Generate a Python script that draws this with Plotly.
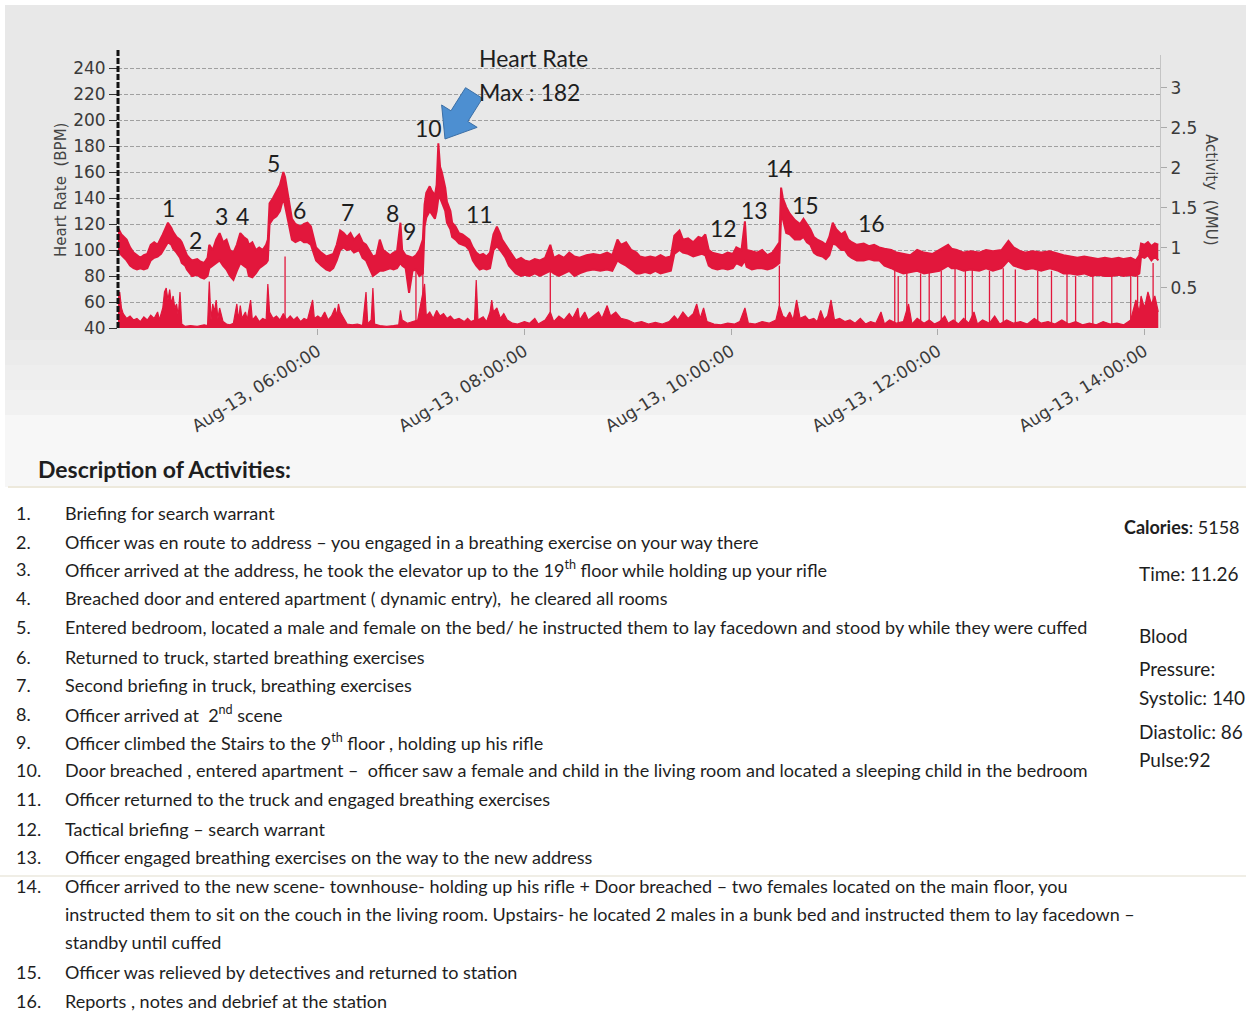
import plotly.graph_objects as go
import pandas as pd

# ---------------- DATA ----------------
DAY = "2013-08-13 "

hr_time = ["04:04","04:06","04:09","04:11","04:13","04:15","04:17","04:19","04:21","04:23",
"04:25","04:27","04:29","04:30","04:32","04:33","04:35","04:36","04:38","04:40",
"04:41","04:43","04:44","04:46","04:47","04:50","04:52","04:54","04:56","04:57",
"04:59","05:01","05:03","05:05","05:07","05:09","05:11","05:13","05:15","05:17",
"05:19","05:20","05:22","05:24","05:26","05:28","05:30","05:31","05:32","05:34",
"05:36","05:38","05:40","05:41","05:42","05:44","05:45","05:47","05:50","05:52",
"05:54","05:56","05:57","05:59","06:02","06:05","06:07","06:09","06:11","06:13",
"06:15","06:17","06:19","06:21","06:24","06:26","06:28","06:30","06:32","06:34",
"06:36","06:38","06:40","06:42","06:44","06:46","06:48","06:49","06:51","06:53",
"06:55","06:57","06:59","07:01","07:02","07:03","07:05","07:06","07:08","07:09",
"07:10","07:11","07:12","07:14","07:15","07:17","07:18","07:20","07:22","07:24",
"07:26","07:28","07:30","07:32","07:34","07:36","07:38","07:40","07:42","07:44",
"07:46","07:47","07:49","07:51","07:53","07:55","07:58","08:00","08:03","08:06",
"08:09","08:12","08:15","08:17","08:20","08:23","08:26","08:29","08:32","08:36",
"08:40","08:44","08:48","08:51","08:54","08:56","08:59","09:02","09:05","09:07",
"09:10","09:13","09:16","09:19","09:22","09:25","09:27","09:30","09:32","09:35",
"09:38","09:41","09:43","09:45","09:47","09:49","09:52","09:55","09:58","10:01",
"10:03","10:06","10:08","10:09","10:12","10:15","10:18","10:21","10:24","10:26",
"10:28","10:29","10:30","10:32","10:34","10:37","10:40","10:42","10:44","10:46",
"10:48","10:50","10:53","10:55","10:57","10:59","11:01","11:04","11:06","11:08",
"11:10","11:13","11:17","11:20","11:23","11:26","11:29","11:33","11:36","11:40",
"11:44","11:48","11:52","11:57","12:01","12:06","12:08","12:11","12:15","12:19",
"12:24","12:28","12:32","12:37","12:41","12:44","12:48","12:51","12:55","13:00",
"13:05","13:10","13:13","13:17","13:21","13:25","13:29","13:33","13:37","13:41",
"13:45","13:48","13:52","13:55","13:57","13:58","14:00","14:02","14:04","14:06",
"14:08"]

hr_high = [117,112,108,102,98,96,94,96,97,104,
106,104,109,112,118,121,117,114,110,108,
106,100,96,93,92,93,91,90,94,104,
100,108,113,106,108,100,98,104,113,110,
108,104,106,100,102,100,104,108,136,140,
145,150,160,156,148,132,124,120,118,120,
121,118,112,102,98,95,96,97,104,115,
113,110,113,108,112,106,104,100,95,96,
108,100,98,96,98,99,121,100,96,95,
94,96,100,108,135,144,149,146,142,150,
182,164,160,148,137,130,121,118,113,112,
110,108,102,98,96,97,95,98,112,118,
112,108,104,100,96,92,94,92,91,93,
92,94,104,94,96,94,98,95,94,96,
97,96,98,96,108,104,106,100,98,95,
94,95,94,96,94,95,111,115,108,109,
106,110,109,112,100,98,97,96,98,97,
102,100,122,100,99,98,100,96,98,102,
106,148,140,133,128,123,120,124,120,116,
110,108,106,104,110,121,116,112,114,108,
106,104,105,103,104,102,101,100,98,97,
96,100,98,97,100,104,101,100,98,99,
98,100,99,100,107,102,99,98,99,98,
99,97,96,95,94,95,94,93,94,93,
94,93,94,92,96,105,104,106,103,105,
104]

hr_low = [100,96,92,88,86,85,86,85,86,92,
94,95,97,99,104,106,104,101,98,94,
90,88,85,82,80,81,79,78,80,86,
88,90,92,88,85,80,77,84,90,88,
86,80,79,82,86,88,90,92,120,124,
126,130,140,134,128,116,108,106,108,106,
106,104,100,92,88,85,84,86,92,100,
102,100,101,98,100,94,92,86,80,82,
84,84,85,86,85,86,90,88,86,67,
84,85,80,82,118,125,130,128,124,130,
140,140,137,130,121,116,110,108,105,104,
103,100,92,88,85,86,85,86,100,103,
100,98,94,88,85,82,80,81,80,82,
80,82,84,82,80,82,84,80,82,84,
85,84,85,84,92,90,88,85,82,82,
83,82,84,82,83,84,97,100,98,97,
95,96,97,96,88,86,85,86,85,86,
90,88,92,87,85,86,86,85,86,88,
90,126,124,113,112,108,108,110,106,104,
98,96,95,93,96,105,104,100,100,96,
94,92,92,93,92,92,88,86,84,82,
83,84,82,83,84,88,86,86,84,85,
84,86,84,86,92,88,86,85,86,84,
86,84,82,82,81,82,80,81,80,80,
81,80,81,80,82,95,94,96,92,95,
92]

act_time = ["04:04","04:05","04:06","04:07","04:09","04:11","04:13","04:15","04:17","04:19",
"04:21","04:23","04:25","04:27","04:28","04:30","04:31","04:32","04:33","04:34",
"04:35","04:36","04:37","04:38","04:39","04:40","04:41","04:43","04:46","04:50",
"04:54","04:56","04:57","04:58","04:59","05:00","05:01","05:02","05:03","05:05",
"05:07","05:09","05:11","05:13","05:14","05:15","05:16","05:18","05:19","05:21",
"05:22","05:24","05:26","05:28","05:30","05:31","05:32","05:34","05:36","05:38",
"05:40","05:42","05:44","05:46","05:48","05:50","05:52","05:54","05:57","05:58",
"06:00","06:02","06:04","06:06","06:08","06:10","06:11","06:12","06:13","06:15",
"06:17","06:20","06:23","06:26","06:28","06:29","06:31","06:32","06:33","06:36",
"06:40","06:44","06:47","06:48","06:49","06:52","06:55","06:58","07:02","07:03",
"07:05","07:07","07:09","07:11","07:13","07:15","07:17","07:19","07:22","07:25",
"07:27","07:29","07:31","07:32","07:33","07:36","07:38","07:40","07:41","07:42",
"07:44","07:46","07:48","07:50","07:53","07:56","08:00","08:03","08:06","08:08",
"08:12","08:15","08:17","08:20","08:23","08:26","08:28","08:31","08:32","08:35",
"08:37","08:40","08:43","08:45","08:48","08:50","08:53","08:56","09:00","09:04",
"09:08","09:12","09:16","09:20","09:24","09:27","09:29","09:32","09:35","09:38",
"09:40","09:42","09:44","09:46","09:50","09:54","09:58","10:02","10:05","10:08",
"10:10","10:14","10:18","10:22","10:26","10:28","10:30","10:32","10:34","10:36",
"10:38","10:40","10:43","10:45","10:48","10:50","10:52","10:54","10:56","10:58",
"11:00","11:03","11:06","11:09","11:12","11:15","11:18","11:21","11:24","11:27",
"11:29","11:32","11:36","11:40","11:43","11:45","11:48","11:52","11:55","11:58",
"12:01","12:04","12:06","12:09","12:12","12:15","12:18","12:21","12:23","12:26",
"12:30","12:33","12:36","12:40","12:44","12:48","12:52","12:56","13:00","13:04",
"13:08","13:12","13:16","13:20","13:24","13:28","13:32","13:36","13:40","13:44",
"13:48","13:52","13:55","13:57","13:58","14:00","14:02","14:04","14:06","14:08"]

act_value = [0.35,0.45,0.25,0.18,0.12,0.15,0.10,0.12,0.08,0.14,
0.10,0.16,0.12,0.20,0.10,0.25,0.45,0.50,0.35,0.48,
0.30,0.40,0.25,0.30,0.15,0.45,0.05,0.02,0.03,0.02,
0.04,0.03,0.58,0.10,0.30,0.20,0.35,0.12,0.25,0.08,
0.05,0.04,0.06,0.30,0.10,0.28,0.12,0.20,0.10,0.35,
0.10,0.15,0.08,0.12,0.10,0.55,0.20,0.12,0.15,0.10,
0.18,0.10,0.15,0.10,0.14,0.08,0.12,0.10,0.35,0.12,
0.15,0.12,0.20,0.10,0.15,0.25,0.15,0.30,0.20,0.12,
0.05,0.04,0.05,0.03,0.45,0.05,0.10,0.50,0.05,0.03,
0.02,0.03,0.04,0.22,0.10,0.06,0.08,0.10,0.55,0.15,
0.20,0.12,0.22,0.15,0.18,0.12,0.15,0.10,0.12,0.08,
0.12,0.08,0.10,0.60,0.10,0.14,0.08,0.20,0.35,0.20,
0.25,0.12,0.18,0.10,0.06,0.05,0.08,0.06,0.12,0.05,
0.10,0.20,0.08,0.15,0.10,0.18,0.12,0.25,0.10,0.20,
0.10,0.15,0.20,0.12,0.28,0.15,0.20,0.12,0.10,0.06,
0.08,0.05,0.07,0.05,0.08,0.15,0.10,0.20,0.12,0.18,
0.30,0.12,0.25,0.08,0.05,0.04,0.06,0.05,0.08,0.25,
0.06,0.05,0.08,0.06,0.10,0.28,0.15,0.12,0.20,0.10,
0.35,0.12,0.15,0.10,0.12,0.08,0.22,0.10,0.15,0.35,
0.10,0.12,0.08,0.10,0.06,0.12,0.05,0.08,0.06,0.20,
0.05,0.10,0.06,0.08,0.30,0.05,0.12,0.06,0.10,0.05,
0.08,0.15,0.06,0.10,0.05,0.12,0.06,0.20,0.05,0.10,
0.06,0.15,0.05,0.10,0.06,0.08,0.05,0.12,0.06,0.08,
0.05,0.10,0.05,0.08,0.04,0.06,0.04,0.08,0.05,0.06,
0.04,0.10,0.35,0.20,0.40,0.25,0.45,0.30,0.40,0.20]

# heart-rate signal dropouts (thin vertical lines down to the baseline)
drop_time = ["05:41","06:57","07:01","08:15","10:28","11:35","11:37","11:42","11:50","11:55",
             "12:02","12:10","12:16","12:20","12:30","12:38","12:45","12:58","13:06","13:15",
             "13:20","13:30","13:41","13:52","13:56","14:05"]
drop_top = [95,85,85,84,88,85,80,84,82,83,84,86,84,85,84,86,85,84,84,82,80,80,80,80,80,90]

event_label = ["1","2","3","4","5","6","7","8","9","10","11","12","13","14","15","16"]
event_time = ["04:33:30","04:49:00","05:04:00","05:16:30","05:34:00","05:49:30","06:17:00","06:43:30",
              "06:53:30","07:04:00","07:34:00","09:55:30","10:13:30","10:28:00","10:43:00","11:21:30"]
event_bpm = [132,108,126,126,167,131,129,128.5,115,194,128,117,131,163,134.5,121]

hr_max = 182
hr_max_time = "07:10"

x_tick_times = ["06:00","08:00","10:00","12:00","14:00"]
x_tick_text = ["Aug-13, 06:00:00","Aug-13, 08:00:00","Aug-13, 10:00:00","Aug-13, 12:00:00","Aug-13, 14:00:00"]
hr_ticks = [40,60,80,100,120,140,160,180,200,220,240]
act_ticks = [0.5,1,1.5,2,2.5,3]

activity_num = ["1.","2.","3.","4.","5.","6.","7.","8.","9.","10.","11.","12.","13.","14.","","","15.","16."]
activity_text = [
    "Briefing for search warrant",
    "Officer was en route to address – you engaged in a breathing exercise on your way there",
    "Officer arrived at the address, he took the elevator up to the 19<sup>th</sup> floor while holding up your rifle",
    "Breached door and entered apartment ( dynamic entry),  he cleared all rooms",
    "Entered bedroom, located a male and female on the bed/ he instructed them to lay facedown and stood by while they were cuffed",
    "Returned to truck, started breathing exercises",
    "Second briefing in truck, breathing exercises",
    "Officer arrived at  2<sup>nd</sup> scene",
    "Officer climbed the Stairs to the 9<sup>th</sup> floor , holding up his rifle",
    "Door breached , entered apartment –  officer saw a female and child in the living room and located a sleeping child in the bedroom",
    "Officer returned to the truck and engaged breathing exercises",
    "Tactical briefing – search warrant",
    "Officer engaged breathing exercises on the way to the new address",
    "Officer arrived to the new scene- townhouse- holding up his rifle + Door breached – two females located on the main floor, you",
    "instructed them to sit on the couch in the living room. Upstairs- he located 2 males in a bunk bed and instructed them to lay facedown –",
    "standby until cuffed",
    "Officer was relieved by detectives and returned to station",
    "Reports , notes and debrief at the station",
]
activity_y = [513,542,569,598,627,657,685,714,742,770,799,829,857,886,914,942,972,1001]

side_text = ["<b>Calories</b>: 5158", "Time: 11.26", "Blood", "Pressure:", "Systolic: 140", "Diastolic: 86", "Pulse:92"]
side_x = [1122, 1137, 1137, 1137, 1137, 1137, 1137]
side_y = [527, 573, 635, 668, 697, 731, 760]
side_size = [18, 19, 19, 19, 19, 19, 19]

assert len(hr_time) == len(hr_high) == len(hr_low)
assert len(act_time) == len(act_value)

# ---------------- LAYOUT HELPERS ----------------
W, H = 1246, 1014
PL, PR, PT, PB = 118, 1160, 55, 328


def px(x):
    return (x - PL) / (PR - PL)


def py(y):
    return (PB - y) / (PB - PT)


def ts(lst):
    return pd.to_datetime([DAY + t for t in lst])


RED = "#e2173c"
TXT = "#1e1e1e"

fig = go.Figure()

# activity (right axis)
fig.add_trace(go.Scatter(x=ts(act_time), y=act_value, yaxis="y2", mode="lines",
                         line=dict(color=RED, width=1.2), fill="tozeroy", fillcolor=RED,
                         hoverinfo="skip", showlegend=False))

# dropout lines
dx, dy = [], []
for t, top in zip(ts(drop_time), drop_top):
    dx += [t, t, None]
    dy += [40, top, None]
fig.add_trace(go.Scatter(x=dx, y=dy, mode="lines", line=dict(color=RED, width=1.3),
                         hoverinfo="skip", showlegend=False))

# heart-rate band
fig.add_trace(go.Scatter(x=ts(hr_time), y=hr_low, mode="lines",
                         line=dict(color=RED, width=2), hoverinfo="skip", showlegend=False))
fig.add_trace(go.Scatter(x=ts(hr_time), y=hr_high, mode="lines", fill="tonexty", fillcolor=RED,
                         line=dict(color=RED, width=2), hoverinfo="skip", showlegend=False))

shapes = []
# backgrounds
shapes.append(dict(type="rect", xref="paper", yref="paper", x0=px(5), x1=px(1250), y0=py(340), y1=py(5),
                   fillcolor="#e8e8e8", line=dict(width=0), layer="below"))
for (a, b, c) in [(340, 365, "#ebebeb"), (365, 390, "#eeeeee"), (390, 415, "#f1f1f1"), (415, 487, "#f7f7f7")]:
    shapes.append(dict(type="rect", xref="paper", yref="paper", x0=px(5), x1=px(1250), y0=py(b), y1=py(a),
                       fillcolor=c, line=dict(width=0), layer="below"))
shapes.append(dict(type="line", xref="paper", yref="paper", x0=px(8), x1=px(1250), y0=py(487), y1=py(487),
                   line=dict(color="#ede9dc", width=2)))
shapes.append(dict(type="line", xref="paper", yref="paper", x0=px(0), x1=px(1250), y0=py(876), y1=py(876),
                   line=dict(color="#f0eee6", width=2)))
# dashed left axis
shapes.append(dict(type="line", xref="paper", yref="paper", x0=0, x1=0, y0=0, y1=py(50),
                   line=dict(color="#111111", width=3, dash="6px,2px")))

# block arrow pointing at the heart-rate maximum (drawn in pixel space)
tip = (445.0, 139.0)
tail = (474.0, 93.0)
vx, vy = tail[0] - tip[0], tail[1] - tip[1]
ln = (vx * vx + vy * vy) ** 0.5
ux, uy = vx / ln, vy / ln
nx, ny = -uy, ux
head_len, head_half, shaft_half = 27.0, 21.0, 10.0
bx, by = tip[0] + ux * head_len, tip[1] + uy * head_len
pts = [tip,
       (bx + nx * head_half, by + ny * head_half),
       (bx + nx * shaft_half, by + ny * shaft_half),
       (tail[0] + nx * shaft_half, tail[1] + ny * shaft_half),
       (tail[0] - nx * shaft_half, tail[1] - ny * shaft_half),
       (bx - nx * shaft_half, by - ny * shaft_half),
       (bx - nx * head_half, by - ny * head_half)]
path = "M " + " L ".join(f"{px(a):.5f},{py(b):.5f}" for a, b in pts) + " Z"
shapes.append(dict(type="path", xref="paper", yref="paper", path=path,
                   fillcolor="#4d8fd1", line=dict(color="#3b6fa6", width=1)))

annotations = []
for lab, t, b in zip(event_label, ts(event_time), event_bpm):
    annotations.append(dict(x=t, y=b, xref="x", yref="y", text=lab, showarrow=False,
                            font=dict(family="Lato", size=23, color=TXT)))

annotations.append(dict(x=px(477), y=py(58), xref="paper", yref="paper", text="Heart Rate",
                        showarrow=False, xanchor="left", yanchor="middle",
                        font=dict(family="Lato", size=23, color=TXT)))
annotations.append(dict(x=px(477), y=py(92), xref="paper", yref="paper", text=f"Max : {hr_max}",
                        showarrow=False, xanchor="left", yanchor="middle",
                        font=dict(family="Lato", size=23, color=TXT)))

# axis titles
annotations.append(dict(x=px(50), y=py(190), xref="paper", yref="paper", text="Heart Rate  (BPM)",
                        textangle=-90, showarrow=False, font=dict(family="DejaVu Sans", size=15, color="#444")))
annotations.append(dict(x=px(1222), y=py(190), xref="paper", yref="paper", text="Activity  (VMU)",
                        textangle=90, showarrow=False, font=dict(family="DejaVu Sans", size=15, color="#444")))

# description header and list
annotations.append(dict(x=px(36), y=py(469), xref="paper", yref="paper", text="<b>Description of Activities:</b>",
                        showarrow=False, xanchor="left", yanchor="middle",
                        font=dict(family="Lato", size=23, color=TXT)))
for n, txt, yy in zip(activity_num, activity_text, activity_y):
    if n:
        annotations.append(dict(x=px(14), y=py(yy), xref="paper", yref="paper", text=n,
                                showarrow=False, xanchor="left", yanchor="middle",
                                font=dict(family="Lato", size=18, color=TXT)))
    annotations.append(dict(x=px(63), y=py(yy), xref="paper", yref="paper", text=txt,
                            showarrow=False, xanchor="left", yanchor="middle",
                            font=dict(family="Lato", size=18, color=TXT)))
for txt, xx, yy, sz in zip(side_text, side_x, side_y, side_size):
    annotations.append(dict(x=px(xx), y=py(yy), xref="paper", yref="paper", text=txt,
                            showarrow=False, xanchor="left", yanchor="middle",
                            font=dict(family="Lato", size=sz, color=TXT)))

fig.update_layout(
    width=W, height=H,
    margin=dict(l=PL, r=W - PR, t=PT, b=H - PB, pad=0),
    paper_bgcolor="white", plot_bgcolor="rgba(0,0,0,0)",
    showlegend=False,
    xaxis=dict(type="date", range=[pd.Timestamp(DAY + "04:04"), pd.Timestamp(DAY + "14:09")],
               tickvals=ts(x_tick_times), ticktext=x_tick_text, tickangle=-32,
               ticks="outside", ticklen=6, tickcolor="#aaaaaa", showgrid=False, showline=False,
               zeroline=False, tickfont=dict(family="DejaVu Sans", size=17, color="#3a3a3a")),
    yaxis=dict(range=[40, 250], tickvals=hr_ticks, ticks="outside", ticklen=8, tickcolor="#333",
               showgrid=True, gridcolor="#a0a0a0", griddash="4px,2px", gridwidth=1, zeroline=False,
               showline=False, tickfont=dict(family="DejaVu Sans", size=17, color="#3a3a3a")),
    yaxis2=dict(range=[0, 3.41], overlaying="y", side="right", tickvals=act_ticks,
                ticks="outside", ticklen=6, tickcolor="#aaaaaa", showgrid=False, zeroline=False,
                showline=True, linecolor="#c4c4c4", linewidth=1,
                tickfont=dict(family="DejaVu Sans", size=17, color="#3a3a3a")),
    shapes=shapes, annotations=annotations,
)

fig.write_html("out.html", config={"displayModeBar": False},
               post_script="document.body.style.margin='0px';document.body.style.overflow='hidden';")
